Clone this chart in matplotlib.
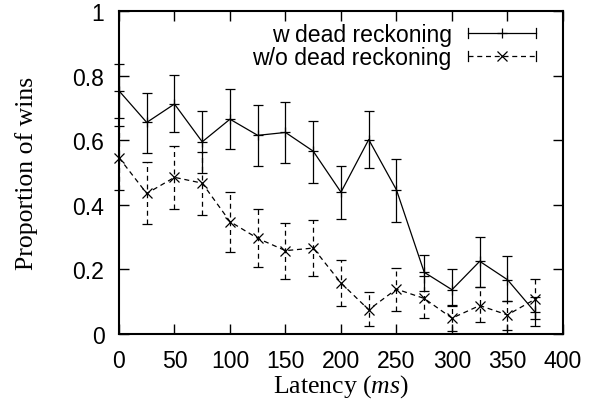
import numpy as np
import matplotlib
matplotlib.use('Agg')
import matplotlib.pyplot as plt
from matplotlib.legend_handler import HandlerBase
from matplotlib.lines import Line2D

# latency (ms)
latency = [0, 25, 50, 75, 100, 125, 150, 175, 200, 225, 250, 275, 300, 325, 350, 375]

# w dead reckoning
w_mean = [0.753, 0.655, 0.712, 0.595, 0.665, 0.615, 0.624, 0.566, 0.439, 0.602,
          0.446, 0.191, 0.137, 0.225, 0.168, 0.067]
w_low = [0.669, 0.560, 0.625, 0.498, 0.572, 0.520, 0.529, 0.468, 0.356, 0.513,
         0.348, 0.134, 0.087, 0.145, 0.103, 0.026]
w_high = [0.837, 0.747, 0.802, 0.690, 0.758, 0.710, 0.719, 0.660, 0.519, 0.690,
          0.542, 0.246, 0.201, 0.299, 0.241, 0.115]

# w/o dead reckoning
wo_mean = [0.546, 0.435, 0.485, 0.467, 0.348, 0.296, 0.258, 0.266, 0.158, 0.075,
           0.139, 0.110, 0.049, 0.088, 0.059, 0.108]
wo_low = [0.447, 0.339, 0.387, 0.368, 0.253, 0.206, 0.170, 0.181, 0.086, 0.026,
          0.071, 0.049, 0.008, 0.036, 0.013, 0.046]
wo_high = [0.643, 0.531, 0.583, 0.562, 0.441, 0.387, 0.344, 0.354, 0.230, 0.131,
           0.205, 0.181, 0.090, 0.145, 0.103, 0.170]

plt.rcParams['font.family'] = ['Liberation Sans', 'DejaVu Sans']
plt.rcParams['font.size'] = 16.6
plt.rcParams['mathtext.fontset'] = 'custom'
plt.rcParams['mathtext.it'] = 'Liberation Serif:italic'
plt.rcParams['mathtext.rm'] = 'Liberation Serif'


class GnuplotErrHandler(HandlerBase):
    # horizontal sample line with end caps and the point in the middle
    def __init__(self, ls, marker, ms):
        super().__init__()
        self.ls = ls
        self.marker = marker
        self.ms = ms

    def create_artists(self, legend, orig_handle, xdescent, ydescent,
                       width, height, fontsize, trans):
        y = height / 2 - ydescent
        x0, x1 = -xdescent, -xdescent + width
        cap = 3.5
        arts = [
            Line2D([x0, x1], [y, y], color='black', lw=0.9, ls=self.ls),
            Line2D([x0, x0], [y - cap, y + cap], color='black', lw=0.9),
            Line2D([x1, x1], [y - cap, y + cap], color='black', lw=0.9),
            Line2D([(x0 + x1) / 2], [y], color='black', marker=self.marker,
                   ms=self.ms, mew=0.9, ls='none'),
        ]
        for a in arts:
            a.set_transform(trans)
        return arts


fig = plt.figure(figsize=(5.97, 4.10), dpi=100)
ax = fig.add_axes([0.1993, 0.183, 0.7437, 0.7877])

lat = np.array(latency)
w_m, wo_m = np.array(w_mean), np.array(wo_mean)
w_err = [w_m - np.array(w_low), np.array(w_high) - w_m]
wo_err = [wo_m - np.array(wo_low), np.array(wo_high) - wo_m]

e1 = ax.errorbar(lat, w_m, yerr=w_err, color='black', lw=0.9, elinewidth=0.9,
                 capsize=3.8, capthick=0.9, marker='+', ms=7, mew=0.9)
e2 = ax.errorbar(lat, wo_m, yerr=wo_err, color='black', lw=0.9, elinewidth=0.9,
                 capsize=3.8, capthick=0.9, marker='x', ms=7.5, mew=0.9,
                 ls=(0, (4, 3)))
e2[2][0].set_linestyle((0, (4, 3)))
for e in (e1, e2):
    for c in e[1]:
        c.set_clip_on(False)
    e[0].set_clip_on(False)
    e[2][0].set_clip_on(False)

ax.set_xlim(0, 400)
ax.set_ylim(0, 1)
ax.set_xticks(range(0, 401, 50))
ax.set_yticks([0, 0.2, 0.4, 0.6, 0.8, 1])
ax.set_yticklabels(['0', '0.2', '0.4', '0.6', '0.8', '1'])
ax.tick_params(direction='in', length=7, width=1.0, top=True, right=True)
ax.tick_params(axis='y', pad=10.5)
ax.tick_params(axis='x', pad=11)
for s in ax.spines.values():
    s.set_linewidth(1.5)

ax.set_xlabel('Latency ($ms$)', fontfamily='Liberation Serif', fontsize=18.5, labelpad=0)
ax.set_ylabel('Proportion of wins', fontfamily='Liberation Serif', fontsize=18.5, labelpad=25)

h1 = Line2D([], [])
h2 = Line2D([], [])
leg = ax.legend([h1, h2], ['w dead reckoning', 'w/o dead reckoning'],
                handler_map={h1: GnuplotErrHandler('-', '+', 7),
                             h2: GnuplotErrHandler((0, (4, 3)), 'x', 7.5)},
                loc='upper right', bbox_to_anchor=(0.939, 0.962),
                frameon=False, markerfirst=False, handlelength=2.95,
                handletextpad=0.7, labelspacing=-0.02, fontsize=16.6,
                borderpad=0.0, borderaxespad=0.0)
for t in leg.get_texts():
    t.set_ha('right')

fig.savefig('out.png', dpi=100)
